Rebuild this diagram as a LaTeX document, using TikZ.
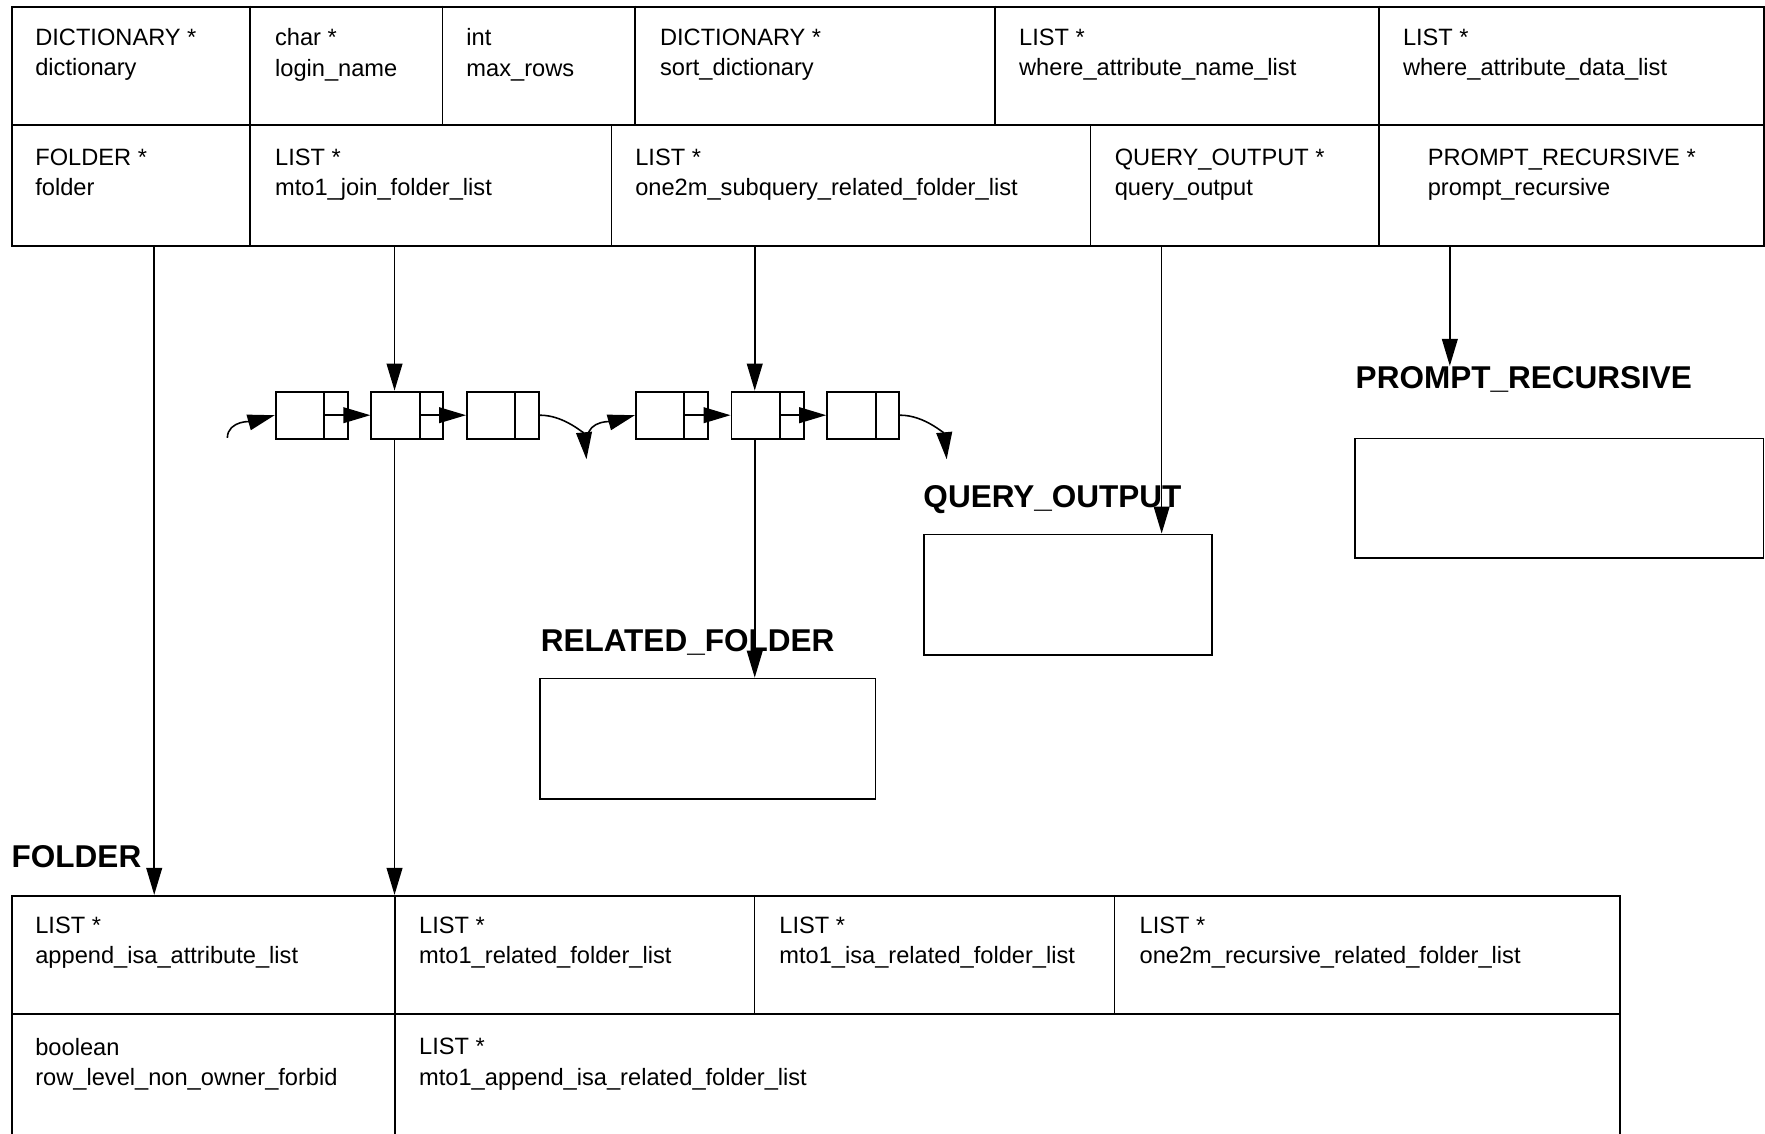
\documentclass[tikz,border=0pt]{standalone}
\usepackage{fontspec}
\setmainfont{Liberation Sans}
\usetikzlibrary{arrows.meta,calc}

\tikzset{
  tblframe/.style={line width=0.85pt},
  tblrule/.style={line width=0.6pt},
  field/.style={anchor=north west, inner sep=0pt, align=left,
    font=\fontsize{10.5pt}{13.5pt}\selectfont},
  objtitle/.style={anchor=base west, inner sep=0pt,
    font=\bfseries\fontsize{14pt}{17pt}\selectfont},
  elem/.style={draw, line width=0.85pt, anchor=north west, inner sep=0pt,
    minimum width=32pt, minimum height=21pt,
    path picture={\draw[line width=0.85pt]
      ([xshift=-10.5pt]path picture bounding box.north east) --
      ([xshift=-10.5pt]path picture bounding box.south east);}},
  objbox/.style={draw, line width=0.7pt, anchor=north west, inner sep=0pt},
  link/.style={line width=0.7pt, -{Triangle[length=12pt,width=7pt]}},
}

\begin{document}
\begin{tikzpicture}[x=0.5pt, y=-0.5pt]
    \useasboundingbox (0,0) rectangle (1568,1007);
    \clip (0,0) rectangle (1568,1007);

    % QUERY table
    \node[draw, tblframe, anchor=north west, inner sep=0pt,
      minimum width=778pt, minimum height=106.5pt] (queryTbl) at (10,5) {};
    \draw[tblframe] (10,111) -- (1566,111);
    \foreach \x in {222,393,564,884,1225}
        \draw[tblrule] (\x,5) -- (\x,111);
    \foreach \x in {222,543,969,1225}
        \draw[tblrule] (\x,111) -- (\x,218);

    \node[field] (tDict) at (31,25) {DICTIONARY *\\dictionary};
    \node[field] (tLogin) at (244,25) {char *\\login\_name};
    \node[field] (tRows) at (414,25) {int\\max\_rows};
    \node[field] (tSort) at (586,25) {DICTIONARY *\\sort\_dictionary};
    \node[field] (tWhereName) at (905,25) {LIST *\\where\_attribute\_name\_list};
    \node[field] (tWhereData) at (1246,25) {LIST *\\where\_attribute\_data\_list};

    \node[field] (tFolder) at (31,132) {FOLDER *\\folder};
    \node[field] (tJoin) at (244,132) {LIST *\\mto1\_join\_folder\_list};
    \node[field] (tSub) at (564,132) {LIST *\\one2m\_subquery\_related\_folder\_list};
    \node[field] (tQuery) at (990,132) {QUERY\_OUTPUT *\\query\_output};
    \node[field] (tPromptF) at (1268,132) {PROMPT\_RECURSIVE *\\prompt\_recursive};

    % FOLDER table
    \node[draw, tblframe, anchor=north west, inner sep=0pt,
      minimum width=714pt, minimum height=130pt] (folderTbl) at (10,795) {};
    \draw[tblframe] (10,901) -- (1438,901);
    \foreach \x in {351,670,990}
        \draw[tblrule] (\x,795) -- (\x,901);
    \draw[tblrule] (351,901) -- (351,1060);

    \node[field] (tAppend) at (31,814) {LIST *\\append\_isa\_attribute\_list};
    \node[field] (tRelated) at (372,814) {LIST *\\mto1\_related\_folder\_list};
    \node[field] (tIsa) at (692,814) {LIST *\\mto1\_isa\_related\_folder\_list};
    \node[field] (tRecursive) at (1012,814) {LIST *\\one2m\_recursive\_related\_folder\_list};
    \node[field] (tForbid) at (31,922) {boolean\\row\_level\_non\_owner\_forbid};
    \node[field] (tAppendIsa) at (372,922) {LIST *\\mto1\_append\_isa\_related\_folder\_list};

    % titles and object boxes
    \node[objtitle] (tFO) at (10,771) {FOLDER};
    \node[objtitle] (tRF) at (480,579) {RELATED\_FOLDER};
    \node[objtitle] (tQO) at (820,451) {QUERY\_OUTPUT};
    \node[objtitle] (tPrompt) at (1204,345) {PROMPT\_RECURSIVE};

    \node[objbox, minimum width=149pt, minimum height=53.5pt] (relBox) at (479,602) {};
    \node[objbox, minimum width=128pt, minimum height=53.5pt] (qoBox) at (820,474) {};
    \node[objbox, minimum width=181.5pt, minimum height=53pt] (promptBox) at (1203,389) {};

    % lists
    \node[elem] (a1) at (244,347) {};
    \node[elem] (a2) at (329,347) {};
    \node[elem] (a3) at (414,347) {};
    \node[elem] (b1) at (564,347) {};
    \node[elem] (b2) at (649,347) {};
    \node[elem] (b3) at (734,347) {};

    \draw[link] ([xshift=-10.5pt]a1.east) -- (a2.west);
    \draw[link] ([xshift=-10.5pt]a2.east) -- (a3.west);
    \draw[link] ([xshift=-10.5pt]b1.east) -- (b2.west);
    \draw[link] ([xshift=-10.5pt]b2.east) -- (b3.west);

    \coordinate (in1) at (202,389);
    \coordinate (out1) at (521,408);
    \coordinate (in2) at (522,389);
    \coordinate (out2) at (841,408);
    \draw[link] (in1) .. controls +(0,-16) and +(-18,5) .. (a1.west);
    \draw[link] (a3.east) .. controls +(22,0) and +(-2,-22) .. (out1);
    \draw[link] (in2) .. controls +(0,-16) and +(-18,5) .. (b1.west);
    \draw[link] (b3.east) .. controls +(22,0) and +(-2,-22) .. (out2);

    % pointers out of the QUERY table
    \coordinate (folderOut) at (137,218);
    \coordinate (joinOut) at (350.5,218);
    \coordinate (subOut) at (670.5,218);
    \coordinate (queryOut) at (1032,218);
    \coordinate (promptOut) at (1288,218);

    \draw[link] (folderOut) -- (folderOut |- folderTbl.north);
    \draw[link] (joinOut) -- (joinOut |- a2.north);
    \draw[link] (joinOut |- a2.south) -- (joinOut |- folderTbl.north);
    \draw[link] (subOut) -- (subOut |- b2.north);
    \draw[link] (subOut |- b2.south) -- (subOut |- relBox.north);
    \draw[link] (queryOut) -- (queryOut |- qoBox.north);
    \draw[link] (promptOut) -- (promptOut |- tPrompt.north);
\end{tikzpicture}
\end{document}
